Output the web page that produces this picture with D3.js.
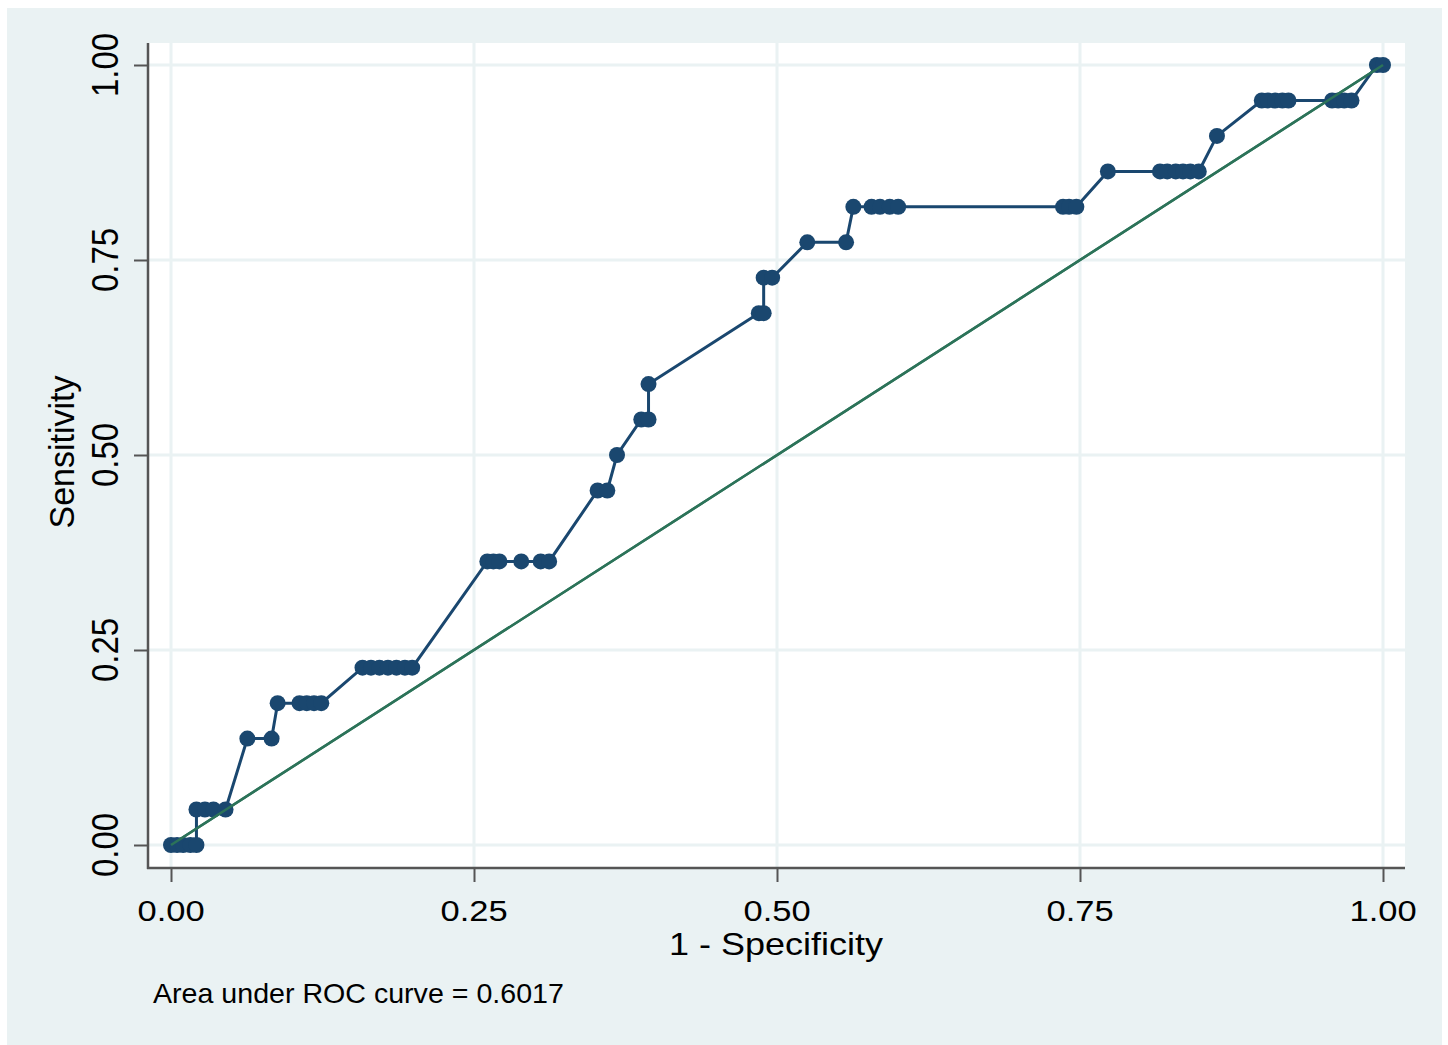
<!DOCTYPE html>
<html>
<head>
<meta charset="utf-8">
<script src="https://cdn.jsdelivr.net/npm/d3@7"></script>
<style>
  body { margin: 0; background: #fff; }
  text { font-family: "Liberation Sans", Arial, sans-serif; fill: #000; }
</style>
</head>
<body>
<svg width="1448" height="1045"></svg>
<script>
// ROC points, in plotting order
var fpr  = [0, .005, .01, .016, .021,
            .021, .028, .035, .045,
            .063, .083,
            .088, .106, .112, .118, .124,
            .158, .165, .172, .179, .186, .193, .199,
            .261, .266, .271, .289, .305, .312,
            .352, .36,
            .368,
            .388, .394,
            .394,
            .485, .489,
            .489, .496,
            .525, .557,
            .563, .578, .585, .593, .6, .736, .741, .747,
            .773, .816, .822, .829, .835, .841, .848,
            .863,
            .9, .905, .911, .917, .922, .958, .963, .968, .974,
            .995, 1];
var sens = [0, 0, 0, 0, 0,
            .0455, .0455, .0455, .0455,
            .1364, .1364,
            .1818, .1818, .1818, .1818, .1818,
            .2273, .2273, .2273, .2273, .2273, .2273, .2273,
            .3636, .3636, .3636, .3636, .3636, .3636,
            .4545, .4545,
            .5,
            .5455, .5455,
            .5909,
            .6818, .6818,
            .7273, .7273,
            .7727, .7727,
            .8182, .8182, .8182, .8182, .8182, .8182, .8182, .8182,
            .8636, .8636, .8636, .8636, .8636, .8636, .8636,
            .9091,
            .9545, .9545, .9545, .9545, .9545, .9545, .9545, .9545, .9545,
            1, 1];
var ticks = [0, .25, .5, .75, 1];
var aucLabel = 'Area under ROC curve = 0.6017';

var svg = d3.select('svg');

var x = d3.scaleLinear().domain([0, 1]).range([171, 1383]),
    y = d3.scaleLinear().domain([0, 1]).range([845, 65]);

var pts = d3.zip(fpr, sens);

// outer panel + plot region
svg.append('rect').attr('x', 7).attr('y', 8).attr('width', 1435).attr('height', 1037)
  .attr('fill', '#eaf2f3');
svg.append('rect').attr('x', 148).attr('y', 43).attr('width', 1257).attr('height', 825)
  .attr('fill', '#fff');

// grid
var grid = svg.append('g').attr('stroke', '#eaf2f3').attr('stroke-width', 3);
grid.selectAll('.gx').data(ticks).enter().append('line')
  .attr('x1', function(d) { return x(d); }).attr('x2', function(d) { return x(d); })
  .attr('y1', 43).attr('y2', 868);
grid.selectAll('.gy').data(ticks).enter().append('line')
  .attr('y1', function(d) { return y(d); }).attr('y2', function(d) { return y(d); })
  .attr('x1', 148).attr('x2', 1405);

// axes
var xAxis = svg.append('g').attr('transform', 'translate(0,868)')
  .call(d3.axisBottom(x).tickValues(ticks).tickSize(14).tickFormat(''));
var yAxis = svg.append('g').attr('transform', 'translate(148,0)')
  .call(d3.axisLeft(y).tickValues(ticks).tickSize(14).tickFormat(''));
[xAxis, yAxis].forEach(function(a) {
  a.select('.domain').remove();
  a.selectAll('line').attr('stroke', '#555').attr('stroke-width', 2);
});
svg.append('line').attr('x1', 148).attr('x2', 148).attr('y1', 43).attr('y2', 869)
  .attr('stroke', '#555').attr('stroke-width', 2.5);
svg.append('line').attr('x1', 147).attr('x2', 1405).attr('y1', 868).attr('y2', 868)
  .attr('stroke', '#555').attr('stroke-width', 2.5);

// tick labels
svg.selectAll('.xl').data(ticks).enter().append('text')
  .attr('text-anchor', 'middle').attr('font-size', 30)
  .attr('transform', function(d) { return 'translate(' + x(d) + ',921) scale(1.15,1)'; })
  .text(d3.format('.2f'));
svg.selectAll('.yl').data(ticks).enter().append('text')
  .attr('text-anchor', 'middle').attr('font-size', 33)
  .attr('transform', function(d) { return 'translate(118,' + y(d) + ') scale(1.13,1) rotate(-90)'; })
  .text(d3.format('.2f'));

// titles
svg.append('text').attr('text-anchor', 'middle').attr('font-size', 30.5)
  .attr('transform', 'translate(776,955) scale(1.18,1)').text('1 - Specificity');
svg.append('text').attr('text-anchor', 'middle').attr('font-size', 34)
  .attr('transform', 'translate(74,452) scale(1.02,1) rotate(-90)').text('Sensitivity');
svg.append('text').attr('font-size', 27.5)
  .attr('transform', 'translate(153,1003) scale(1.04,1)').text(aucLabel);

// reference line (under the curve)
svg.append('line')
  .attr('x1', x(0)).attr('y1', y(0)).attr('x2', x(1)).attr('y2', y(1))
  .attr('stroke', '#2c7359').attr('stroke-width', 2.5);

// ROC curve
var line = d3.line().x(function(d) { return x(d[0]); }).y(function(d) { return y(d[1]); });
svg.append('path').datum(pts).attr('d', line)
  .attr('fill', 'none').attr('stroke', '#1a476f').attr('stroke-width', 3);
svg.selectAll('.pt').data(pts).enter().append('circle')
  .attr('cx', function(d) { return x(d[0]); })
  .attr('cy', function(d) { return y(d[1]); })
  .attr('r', 8)
  .attr('fill', '#1a476f');

// and again on top, as in the original where it crosses the markers
svg.append('line')
  .attr('x1', x(0)).attr('y1', y(0)).attr('x2', x(1)).attr('y2', y(1))
  .attr('stroke', '#2c7359').attr('stroke-width', 2.5);
</script>
</body>
</html>
